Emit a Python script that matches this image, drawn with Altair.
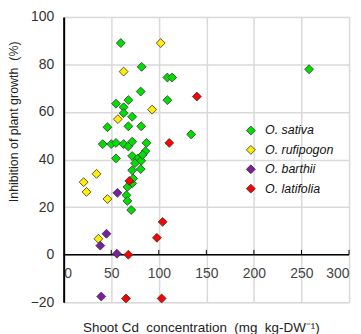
import altair as alt
import pandas as pd

species = ["O. sativa", "O. rufipogon", "O. barthii", "O. latifolia"]
colors = ["#00e000", "#ffee00", "#7a1fa0", "#ff0000"]

sativa_x = [60, 82, 109, 114, 258, 81, 109, 68, 55, 63, 63, 72, 46, 68, 81.5, 41, 50, 55, 63, 68,
            72, 87, 86, 55, 72, 78, 75, 81.5, 83, 72, 81, 134, 72, 67, 66, 67, 71, 73]
sativa_y = [89, 79, 74.5, 74.5, 78, 68.6, 65, 65, 63.5, 62, 59.5, 58, 53.6, 54, 54, 46.5, 46.5, 47, 46.5, 45.5,
            47.5, 47, 43.5, 40.5, 41.5, 40.5, 38.5, 39.5, 42, 35.5, 36, 50.6, 30, 28.5, 25, 22.6, 18.8, 32]
rufi_x = [102, 63, 93, 57, 21, 24, 34.5, 46, 36.5]
rufi_y = [89, 77, 61, 57, 30.5, 26.4, 34, 23.4, 6.7]
barthii_x = [56.5, 45, 38.5, 56, 39.5]
barthii_y = [26, 8.8, 3.8, 0.4, -17.6]
lati_x = [140, 111, 69, 68, 104, 98, 65.5, 103]
lati_y = [66.5, 47, 31, 0, 13.8, 7.1, -18.4, -18.4]

x_ticks = [0, 50, 100, 150, 200, 250, 300]
y_ticks = [-20, 0, 20, 40, 60, 80, 100]

NB = "\u00a0"
x_title = f"Shoot Cd{NB} concentration{NB} (mg{NB} kg-DW\u207b\u00b9)"
y_title = f"Inhibition of plant growth{NB} (%)"

rows = []
for name, xs, ys in [(species[0], sativa_x, sativa_y), (species[1], rufi_x, rufi_y),
                     (species[2], barthii_x, barthii_y), (species[3], lati_x, lati_y)]:
    for a, b in zip(xs, ys):
        rows.append({"species": name, "cd": a, "inh": b, "ord": len(rows)})
df = pd.DataFrame(rows)

FONT = "Liberation Sans"

xscale = alt.Scale(domain=[0, 300], nice=False, zero=False)
yscale = alt.Scale(domain=[-20, 100], nice=False, zero=False)

zero = alt.Chart(pd.DataFrame({"z": [0]})).mark_rule(color="black", strokeWidth=1.5).encode(
    y=alt.Y("z:Q", scale=yscale), x=alt.value(0), x2=alt.value(287))

ticks = alt.Chart(pd.DataFrame({"t": x_ticks[1:]})).mark_rule(color="black", strokeWidth=1).encode(
    x=alt.X("t:Q", scale=xscale), y=alt.datum(0), y2=alt.datum(2))

pts = alt.Chart(df).mark_point(shape="diamond", filled=True, size=80, stroke="#333333",
                               strokeWidth=0.8, opacity=1).encode(
    x=alt.X("cd:Q", scale=xscale,
            axis=alt.Axis(values=x_ticks, title=x_title,
                          grid=True, gridColor="#d9d9d9", gridWidth=1.5, domain=False, ticks=False,
                          labelPadding=-36, labelFontSize=14, labelColor="#444444", labelFont=FONT,
                          titleFont=FONT, titleFontSize=13.5, titleFontWeight="normal", titleColor="#222222",
                          titleX=138, titleY=25, titleBaseline="middle")),
    y=alt.Y("inh:Q", scale=yscale,
            axis=alt.Axis(values=y_ticks, title=y_title,
                          grid=True, gridColor="#d9d9d9", gridWidth=1.5, domain=True, domainColor="black",
                          domainWidth=2, ticks=False, labelPadding=10, labelFontSize=14,
                          labelColor="#333333", labelFont=FONT,
                          titleFont=FONT, titleFontSize=12.5, titleFontWeight="normal", titleColor="#222222",
                          titleX=-50, titleY=105, titleBaseline="middle")),
    color=alt.Color("species:N", scale=alt.Scale(domain=species, range=colors),
                    legend=alt.Legend(title=None, orient="none", legendX=182, legendY=108,
                                      symbolType="diamond", symbolSize=80, symbolStrokeColor="#333333",
                                      symbolStrokeWidth=0.8, labelFont=FONT, labelFontSize=12.5,
                                      labelFontStyle="italic", labelColor="#111111", rowPadding=6.5,
                                      labelOffset=8, padding=0)),
    order=alt.Order("ord:Q"))

chart = alt.layer(zero, ticks, pts).properties(
    width=287, height=287,
    autosize=alt.AutoSizeParams(type="none"),
    padding={"left": 56, "top": 8, "right": 4, "bottom": 32},
).configure_view(stroke="#555555", strokeWidth=1.5).configure(background="white")

chart.save("out.html", embed_options={"renderer": "svg", "actions": False})
